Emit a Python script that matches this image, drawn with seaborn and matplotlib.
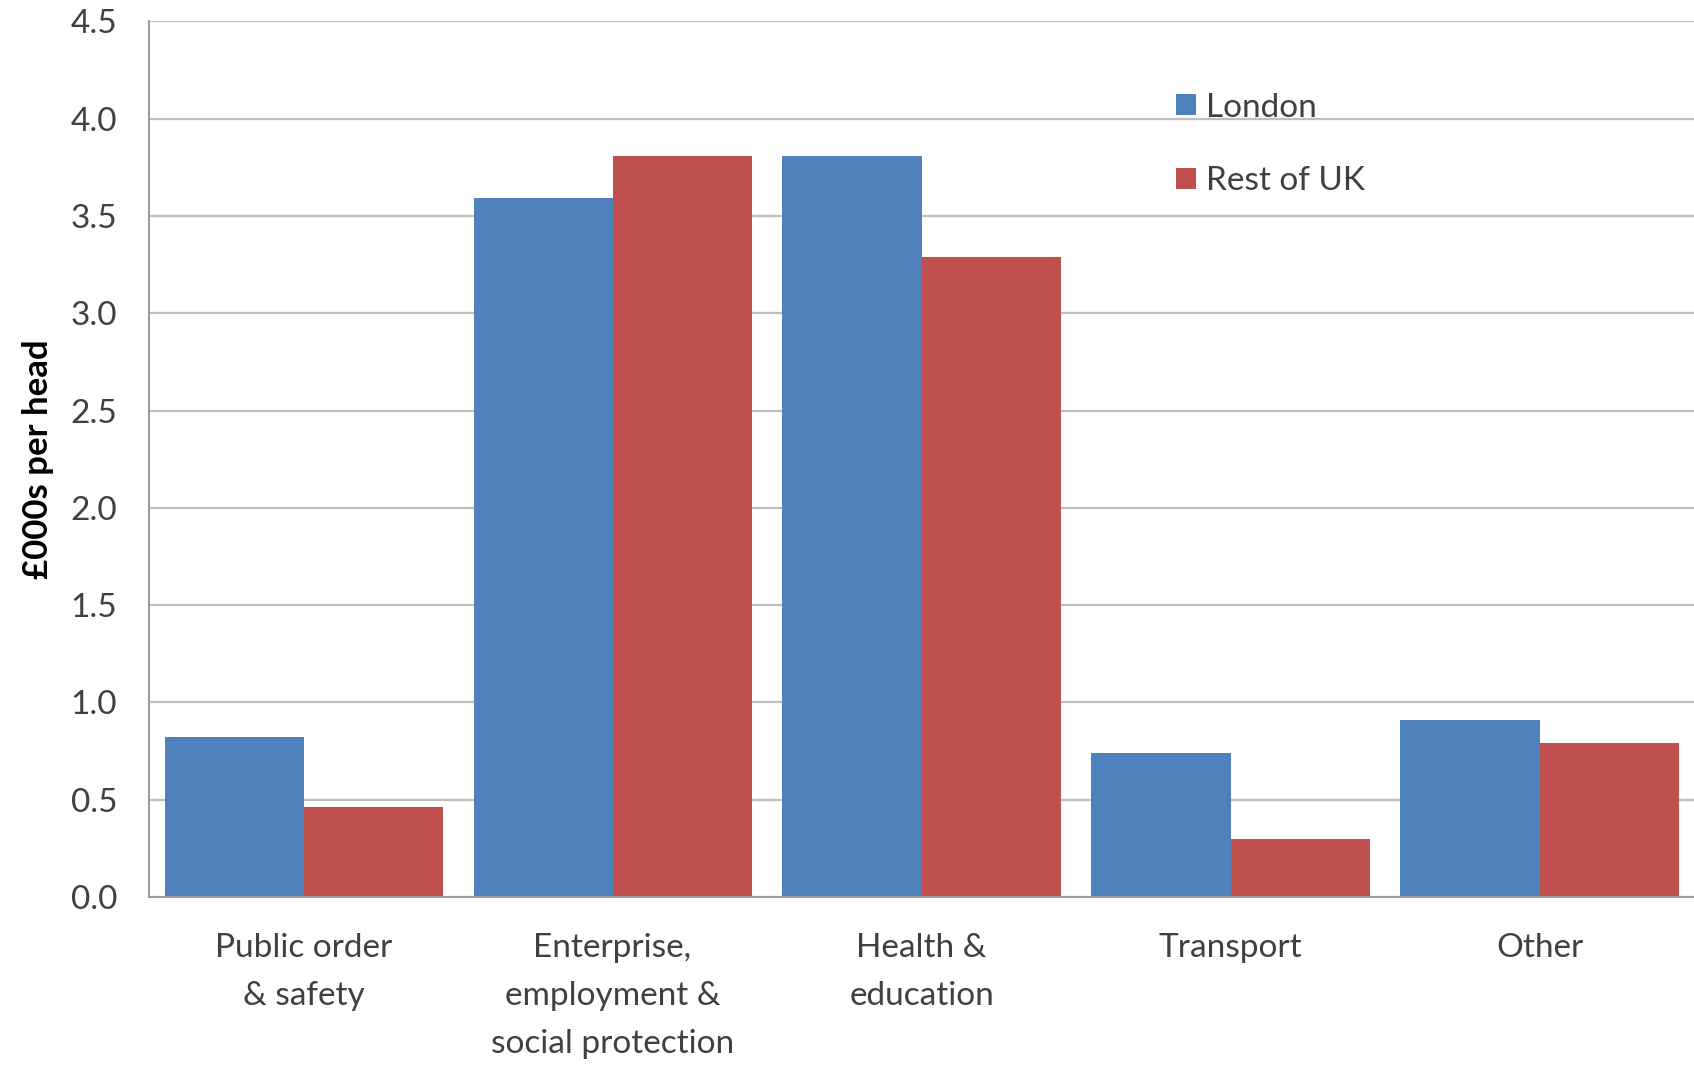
import matplotlib
matplotlib.use('Agg')
import matplotlib.pyplot as plt
from matplotlib.ticker import FixedLocator
import seaborn as sns
import pandas as pd
import numpy as np

# 数据
categories = ['Public order\n& safety', 'Enterprise,\nemployment &\nsocial protection',
              'Health &\neducation', 'Transport', 'Other']
london = [0.82, 3.59, 3.81, 0.74, 0.91]
rest_of_uk = [0.46, 3.81, 3.29, 0.30, 0.79]
series = ['London', 'Rest of UK']
colors = ['#4F81BD', '#C0504D']
yticks = [0.0, 0.5, 1.0, 1.5, 2.0, 2.5, 3.0, 3.5, 4.0, 4.5]

df = pd.DataFrame({
    'category': categories * 2,
    'series': [series[0]] * len(categories) + [series[1]] * len(categories),
    'value': london + rest_of_uk,
})

sns.set_style('white')
plt.rcParams['font.family'] = ['Lato', 'DejaVu Sans']

fig = plt.figure(figsize=(16.94, 10.71), dpi=100)
ax = fig.add_axes([0.088, 0.1625, 0.912, 0.8175])

sns.barplot(data=df, x='category', y='value', hue='series', order=categories,
            hue_order=series, palette=colors, width=0.9, gap=0,
            saturation=1, linewidth=0, ax=ax)

ax.set_ylim(0, 4.5)
ax.set_xlim(-0.5, len(categories) - 0.5)
ax.set_yticks(yticks)
ax.set_yticklabels([f'{v:.1f}' for v in yticks])
ax.yaxis.grid(True, color='#BFBFBF', linewidth=1.6)
ax.set_axisbelow(True)

# 分类边界刻度
ax.xaxis.set_minor_locator(FixedLocator(np.arange(-0.5, len(categories), 1.0)))
ax.tick_params(axis='x', which='major', length=0, pad=26, labelsize=24, labelcolor='#404040')
ax.tick_params(axis='x', which='minor', length=9, width=1.2, color='#9A9A9A', direction='out')
ax.tick_params(axis='y', length=9, width=1.2, color='#9A9A9A', direction='out',
               pad=14, labelsize=24, labelcolor='#404040')
for lab in ax.get_xticklabels():
    lab.set_linespacing(1.75)

for s in ['top', 'right']:
    ax.spines[s].set_visible(False)
for s in ['left', 'bottom']:
    ax.spines[s].set_color('#9A9A9A')
    ax.spines[s].set_linewidth(1.4)

ax.set_xlabel('')
ax.set_ylabel('£000s per head', fontsize=25, fontweight='bold', color='black', labelpad=12)

ax.legend(title=None, loc='upper left', bbox_to_anchor=(0.645, 0.953), frameon=False,
          fontsize=24, labelspacing=1.3, handlelength=0.6, handleheight=0.6,
          handletextpad=0.3, labelcolor='#404040')

fig.savefig('out.png', dpi=100)
